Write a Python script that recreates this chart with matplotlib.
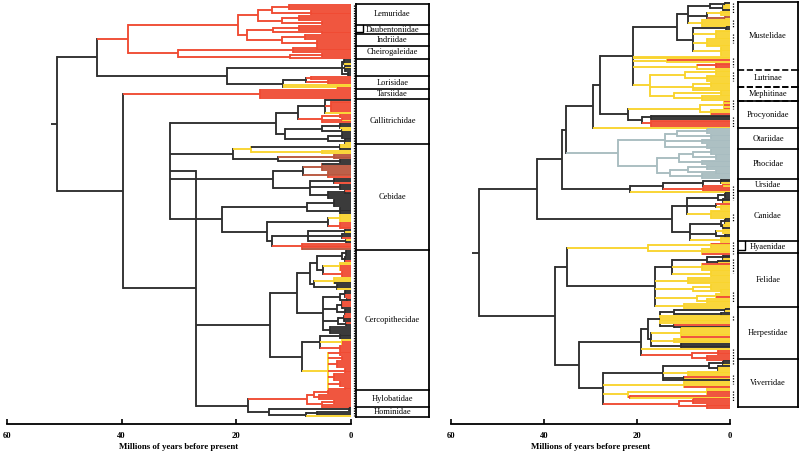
import re
import matplotlib.pyplot as plt
import matplotlib.transforms as mtransforms
from matplotlib.collections import LineCollection

# colour codes used in the tree strings
COLORS = {'r': '#f04b33', 'y': '#f9d42e', 'k': '#2e2e2e', 'g': '#a8bcc0',
          'b': '#b8563d'}

# ---------------- primates (left) : (children)age colour ----------------
LEMURIDAE = "(((r3)10.8r,(r3)7r)13.8r,((r3)9r,(r2)5r)12r)16.2r"
INDRIIDAE = "(((r3)9r,(r2)5r)13.6r,((r3)8r,(r3)6r)12r)18.1r"
CHEIROGALEIDAE = "(((r2)6r,r2)10.1r,((r2)5r,r)10.6r)30.2r"
GALAGIDAE = "((k2,y)1.2k,(k,y,k2)1k,(k2)0.6k)1.6k"
LORISIDAE = "(((r2)7r,(r2)4r)7.9k,y,(y,r)2.5y)11.8k"
TARSIIDAE = "(r5)15.9r"
CALLITRICHIDAE = ("(((k,(r6)3.5r,y)4.5k,((r2)2r,(r,y)1.5r,r)5r)9.3k,"
                  "(((k2,y)2k,(y,k)1.5k)5k,((k3)1.5k,(k2,y)1k)4k)11.5k)13.1k")
AOTIDAE = "(((y2,k)2k,(y2)5y)17.5y,((b3)3b,(k2)2k)12.8k)20.6k"
CEBIDAE = "(((k,b3)5b,(b3,r)4b)8.4k,((k2,r)3k,(k3)2k,((r,k)1k,k3)4k)7.2k)13.6k"
PITHECIIDAE = ("(((k4)3k,(k4)2k)7.7k,(((y4)2y,(r4)2r)4k,"
               "(((k,y)1k,(k2,r)1.5k,(y,k)0.8k)7.5k,(r3,b)8.5r)13.8k)14.7k)22.5k")
CERCOPITHECINAE = ("((((k3)0.8k,(k2,r)1k)1.5k,((y2,r3)2y,(r3)1.5r)4.9k)6k,"
                   "((y3,k)3y,(k2,y)2.5k)6.5k)7.2k,"
                   "(((k2,r2)1k,(r,k)0.7k)2k,((r3,k)1.5k,(k2,r)1k)2.5k,"
                   "((r2,k2)1.2k,(r,k)0.8k)2.2k,(k4)3.7k)4.9k)9.4k")
COLOBINAE = ("(((k3)2k,(y,r2)1.5y,(r3)2r)5.4k,"
             "((r3)2r,(r2)1.5r,(r4)2.5r,(r3)1r,(r4)3r,(r3)2r,(r2)1r)4y)8.5k")
HYLOBATIDAE = "(((r2)4r,(r3)5.5r)6.5r,((r2)3r,r2)5r)7.7r"
HOMINIDAE = "((k2)0.4k,((k,k)6k,y)7.8k)14.3k"

STREPSIRRHINI = (f"((({LEMURIDAE},{INDRIIDAE})19.7r,{CHEIROGALEIDAE})38.9r,"
                 f"({GALAGIDAE},{LORISIDAE})21.6k)44.3k")
PLATYRRHINI = f"({CALLITRICHIDAE},{AOTIDAE},{CEBIDAE},{PITHECIIDAE})31.6k"
CATARRHINI = (f"(({CERCOPITHECINAE},{COLOBINAE})14.1k,"
              f"({HYLOBATIDAE},{HOMINIDAE})17.9k)27k")
PRIMATES = f"({STREPSIRRHINI},({TARSIIDAE},({PLATYRRHINI},{CATARRHINI})39.7k)51.3k)56.7k"

LEFT_FAMILIES = ["Lemuridae", "Daubentoniidae", "Indriidae", "Cheirogaleidae", "",
                 "Lorisidae", "Tarsiidae", "Callitrichidae", "Cebidae",
                 "Cercopithecidae", "Hylobatidae", "Hominidae"]
LEFT_FAMILY_TIPS = [11, 5, 6, 7, 9, 7, 5, 24, 56, 74, 9, 5]

# ---------------- carnivores (right) ----------------
MUSTELINAE = ("((((k,y)1k,(y2,k)1.5k)4.3k,((y3)2y,(b,y)1b)5k,(y4)6y)9k,"
              "((k2)0.8k,(y5)3y,(y5)5y,(y5)2y)8k)11.4k")
LUTRINAE = "(((y3)3y,(y4)5y)9.7y,((y3)4y,y2)8y,((y3)2y,(y3)6y)12y)17.2y"
MUSTELIDAE = f"({MUSTELINAE},y2,(r,y)13.5y,((r3)3r,y)7y,{LUTRINAE})20.8k"
PROCYONIDAE = "(((r,y,r,y,r)1.2y,(y2,r)4y)6.5y,((k3)17k,(r4)17r)19k)22k"
MUSTELOIDEA = f"(({MUSTELIDAE},{PROCYONIDAE})28k,y)29.4k"
OTARIIDAE = "(((g3)5g,(g3)4g)11.5g,(g3)6g,(g3)5g)14g"
PHOCIDAE = "((((g3)4g,(g3)3g)8g,(g3)6g)11g,(((g3)5g,(g2)3g)9g,(g3)6g)13g)15.7g"
URSIDAE = "((((k2,y)2k,(r,y)1.5r)5.8k,(r2)5.8r)14.4k,y)21.5k"
CANIDAE = ("((((k3)1k,(k2,y)1.5k)2.5k,(r,(y3)2y)3k,(y5)4y)9.3k,"
           "(((k2,y)1k,(y2,k)1.5k)2k,((y3)1.5y,(k2)1k)3k,(y3)2y)8.7k)12.5k")
HYAENIDAE = "((r,y2)4y,(y3,r)6y)17.6y"
FELIDAE = ("((((k2,y)1.5k,(k,y)2.5k)5k,(r,y3)6y,(y4)4y)12.5k,(y4)9y,"
           "((y3)4y,(y2)2y)8y,((y2,r)3y,(y3)5y)7y,(y3)10y)16.1k")
HERPESTIDAE = ("(((((k,y)1k,(k2)2k)12k,(y5)15y,(r,k)12k)15k,"
               "((y5,r)10.5y,(y3)12y,(k3)10.5k)17k)17.6k,y,((r3)2.5r,(r3)5r)8.1r)19.1k")
VIVERRIDAE = ("((((k2,y)1.5k,(k,y2)2.5k)4.5k,(y3)9y,(r,y)10k,k)14.4k,(y3,r)10y,"
              "((y2,r2)5y,(r,y)21.5r)22y,((r3)8r,(r3)5r)11r)27.3k")

CANIFORMIA = (f"((({MUSTELOIDEA},({OTARIIDAE},{PHOCIDAE})24.1g)35.3k,{URSIDAE})36.1k,"
              f"{CANIDAE})41.5k")
FELIFORMIA = f"(({HYAENIDAE},{FELIDAE})35k,({HERPESTIDAE},{VIVERRIDAE})32.5k)37.6k"
CARNIVORA = f"({CANIFORMIA},{FELIFORMIA})54k"

RIGHT_FAMILIES = ["Mustelidae", "Lutrinae", "Mephitinae", "Procyonidae", "Otariidae",
                  "Phocidae", "Ursidae", "Canidae", "Hyaenidae", "Felidae",
                  "Herpestidae", "Viverridae"]
RIGHT_FAMILY_TIPS = [39, 10, 8, 16, 12, 17, 7, 29, 7, 31, 30, 28]
RIGHT_DOT_SPANS = [(0, 6), (10, 14), (18, 23), (32, 37), (40, 45), (56, 61), (66, 72),
                   (106, 114), (122, 126), (138, 145), (148, 156), (167, 173),
                   (181, 183), (200, 209), (215, 220), (224, 230)]

TICKS = [60, 40, 20, 0]
XLABEL = "Millions of years before present"


def parse(text):
    text = text.replace(" ", "")
    pos = 0

    def read():
        nonlocal pos
        if text[pos] == "(":
            pos += 1
            kids = []
            while True:
                kids += read()
                ch = text[pos]
                pos += 1
                if ch == ")":
                    break
            m = re.match(r"[\d.]+", text[pos:])
            pos += m.end()
            col = text[pos]
            pos += 1
            return [{"age": float(m.group()), "col": col, "kids": kids}]
        col = text[pos]
        pos += 1
        m = re.match(r"\d*", text[pos:])
        pos += m.end()
        n = int(m.group()) if m.group() else 1
        return [{"age": 0.0, "col": col, "kids": []} for _ in range(n)]

    return read()[0]


def place(node, counter):
    if not node["kids"]:
        node["y"] = counter[0]
        counter[0] += 1
    else:
        for kid in node["kids"]:
            place(kid, counter)
        node["y"] = (node["kids"][0]["y"] + node["kids"][-1]["y"]) / 2


def collect(node, parent_age, hs, hc, vs, vc):
    col = COLORS[node["col"]]
    hs.append([(parent_age, node["y"]), (node["age"], node["y"])])
    hc.append(col)
    if node["kids"]:
        vs.append([(node["age"], node["kids"][0]["y"]), (node["age"], node["kids"][-1]["y"])])
        vc.append(col)
        for kid in node["kids"]:
            collect(kid, node["age"], hs, hc, vs, vc)


def draw_tree(ax, text, stub):
    tree = parse(text)
    counter = [0]
    place(tree, counter)
    hs, hc, vs, vc = [], [], [], []
    collect(tree, tree["age"] + stub, hs, hc, vs, vc)
    ax.add_collection(LineCollection(vs, colors=vc, linewidths=1.35, capstyle="projecting"))
    ax.add_collection(LineCollection(hs, colors=hc, linewidths=1.35, capstyle="butt"))
    return counter[0]


def draw_boxes(ax, names, tips, x0, x1, indent, brackets=(), dashed=()):
    start = 0
    for i, (name, n) in enumerate(zip(names, tips)):
        top, bot = start - 0.5, start + n - 0.5
        ls = "--" if name in dashed else "-"
        ax.plot([x0, x0], [top, bot], color="black", lw=1.3, solid_capstyle="projecting")
        ax.plot([x1, x1], [top, bot], color="black", lw=1.3, solid_capstyle="projecting")
        ax.plot([x0, x1], [top, top], color="black", lw=1.2, ls=ls)
        if name in dashed or i == len(names) - 1:
            ax.plot([x0, x1], [bot, bot], color="black", lw=1.2, ls=ls)
        if name in brackets:
            yc = top + 0.75 * n
            ax.plot([x0 - indent, x0 - indent, x0], [top, yc, yc], color="black", lw=1.0)
        ax.text((x0 + x1) / 2, (top + bot) / 2, name, ha="center", va="center",
                fontsize=6.0, family="Liberation Serif")
        start += n


def style_axis(ax):
    for s in ["top", "right", "left"]:
        ax.spines[s].set_visible(False)
    ax.spines["bottom"].set_bounds(0, 60)
    ax.spines["bottom"].set_linewidth(1.3)
    ax.set_yticks([])
    ax.set_xticks(TICKS)
    ax.set_xticklabels([str(t) for t in TICKS], fontsize=6.2, fontweight="bold",
                       family="Liberation Serif")
    ax.tick_params(axis="x", direction="in", length=3.5, width=1.2, pad=6)
    tr = mtransforms.blended_transform_factory(ax.transData, ax.transAxes)
    ax.text(30, -0.055, XLABEL, transform=tr, ha="center", va="center",
            fontsize=6.4, fontweight="bold", family="Liberation Serif")


W, H = 800, 455
fig = plt.figure(figsize=(8, 4.55), dpi=100)

# left panel: 60 Mya at px 7, 0 at px 351, tips from px 5 to 416
axL = fig.add_axes([0 / W, (H - 424) / H, 430 / W, 424 / H])
sc = (351 - 7) / 60
axL.set_xlim(60 + 7 / sc, -(430 - 351) / sc)
nL = draw_tree(axL, PRIMATES, 1.1)
step = (416 - 5) / (nL - 1)
axL.set_ylim((424 - 5) / step, -5 / step)
axL.plot([-0.45, -0.45], [0, nL - 1], color="black", lw=0.9, ls=(0, (1, 1)))
draw_boxes(axL, LEFT_FAMILIES, LEFT_FAMILY_TIPS, -(356 - 351) / sc, -(429 - 351) / sc,
           7 / sc, brackets={"Daubentoniidae"})
style_axis(axL)

# right panel: 60 Mya at px 451, 0 at px 730, tips from px 3 to 408
axR = fig.add_axes([440 / W, (H - 424) / H, 360 / W, 424 / H])
sc = (730 - 451) / 60
axR.set_xlim(60 + 11 / sc, -(800 - 730) / sc)
nR = draw_tree(axR, CARNIVORA, 1.5)
step = (408 - 3) / (nR - 1)
axR.set_ylim((424 - 3) / step, -3 / step)
for a, b in RIGHT_DOT_SPANS:
    axR.plot([-0.65, -0.65], [a, b], color="black", lw=0.9, ls=(0, (1, 1.2)))
draw_boxes(axR, RIGHT_FAMILIES, RIGHT_FAMILY_TIPS, -(738 - 730) / sc, -(798 - 730) / sc,
           6.5 / sc, brackets={"Hyaenidae"}, dashed={"Lutrinae", "Mephitinae"})
style_axis(axR)

fig.savefig("out.png", dpi=100)
plt.close(fig)
